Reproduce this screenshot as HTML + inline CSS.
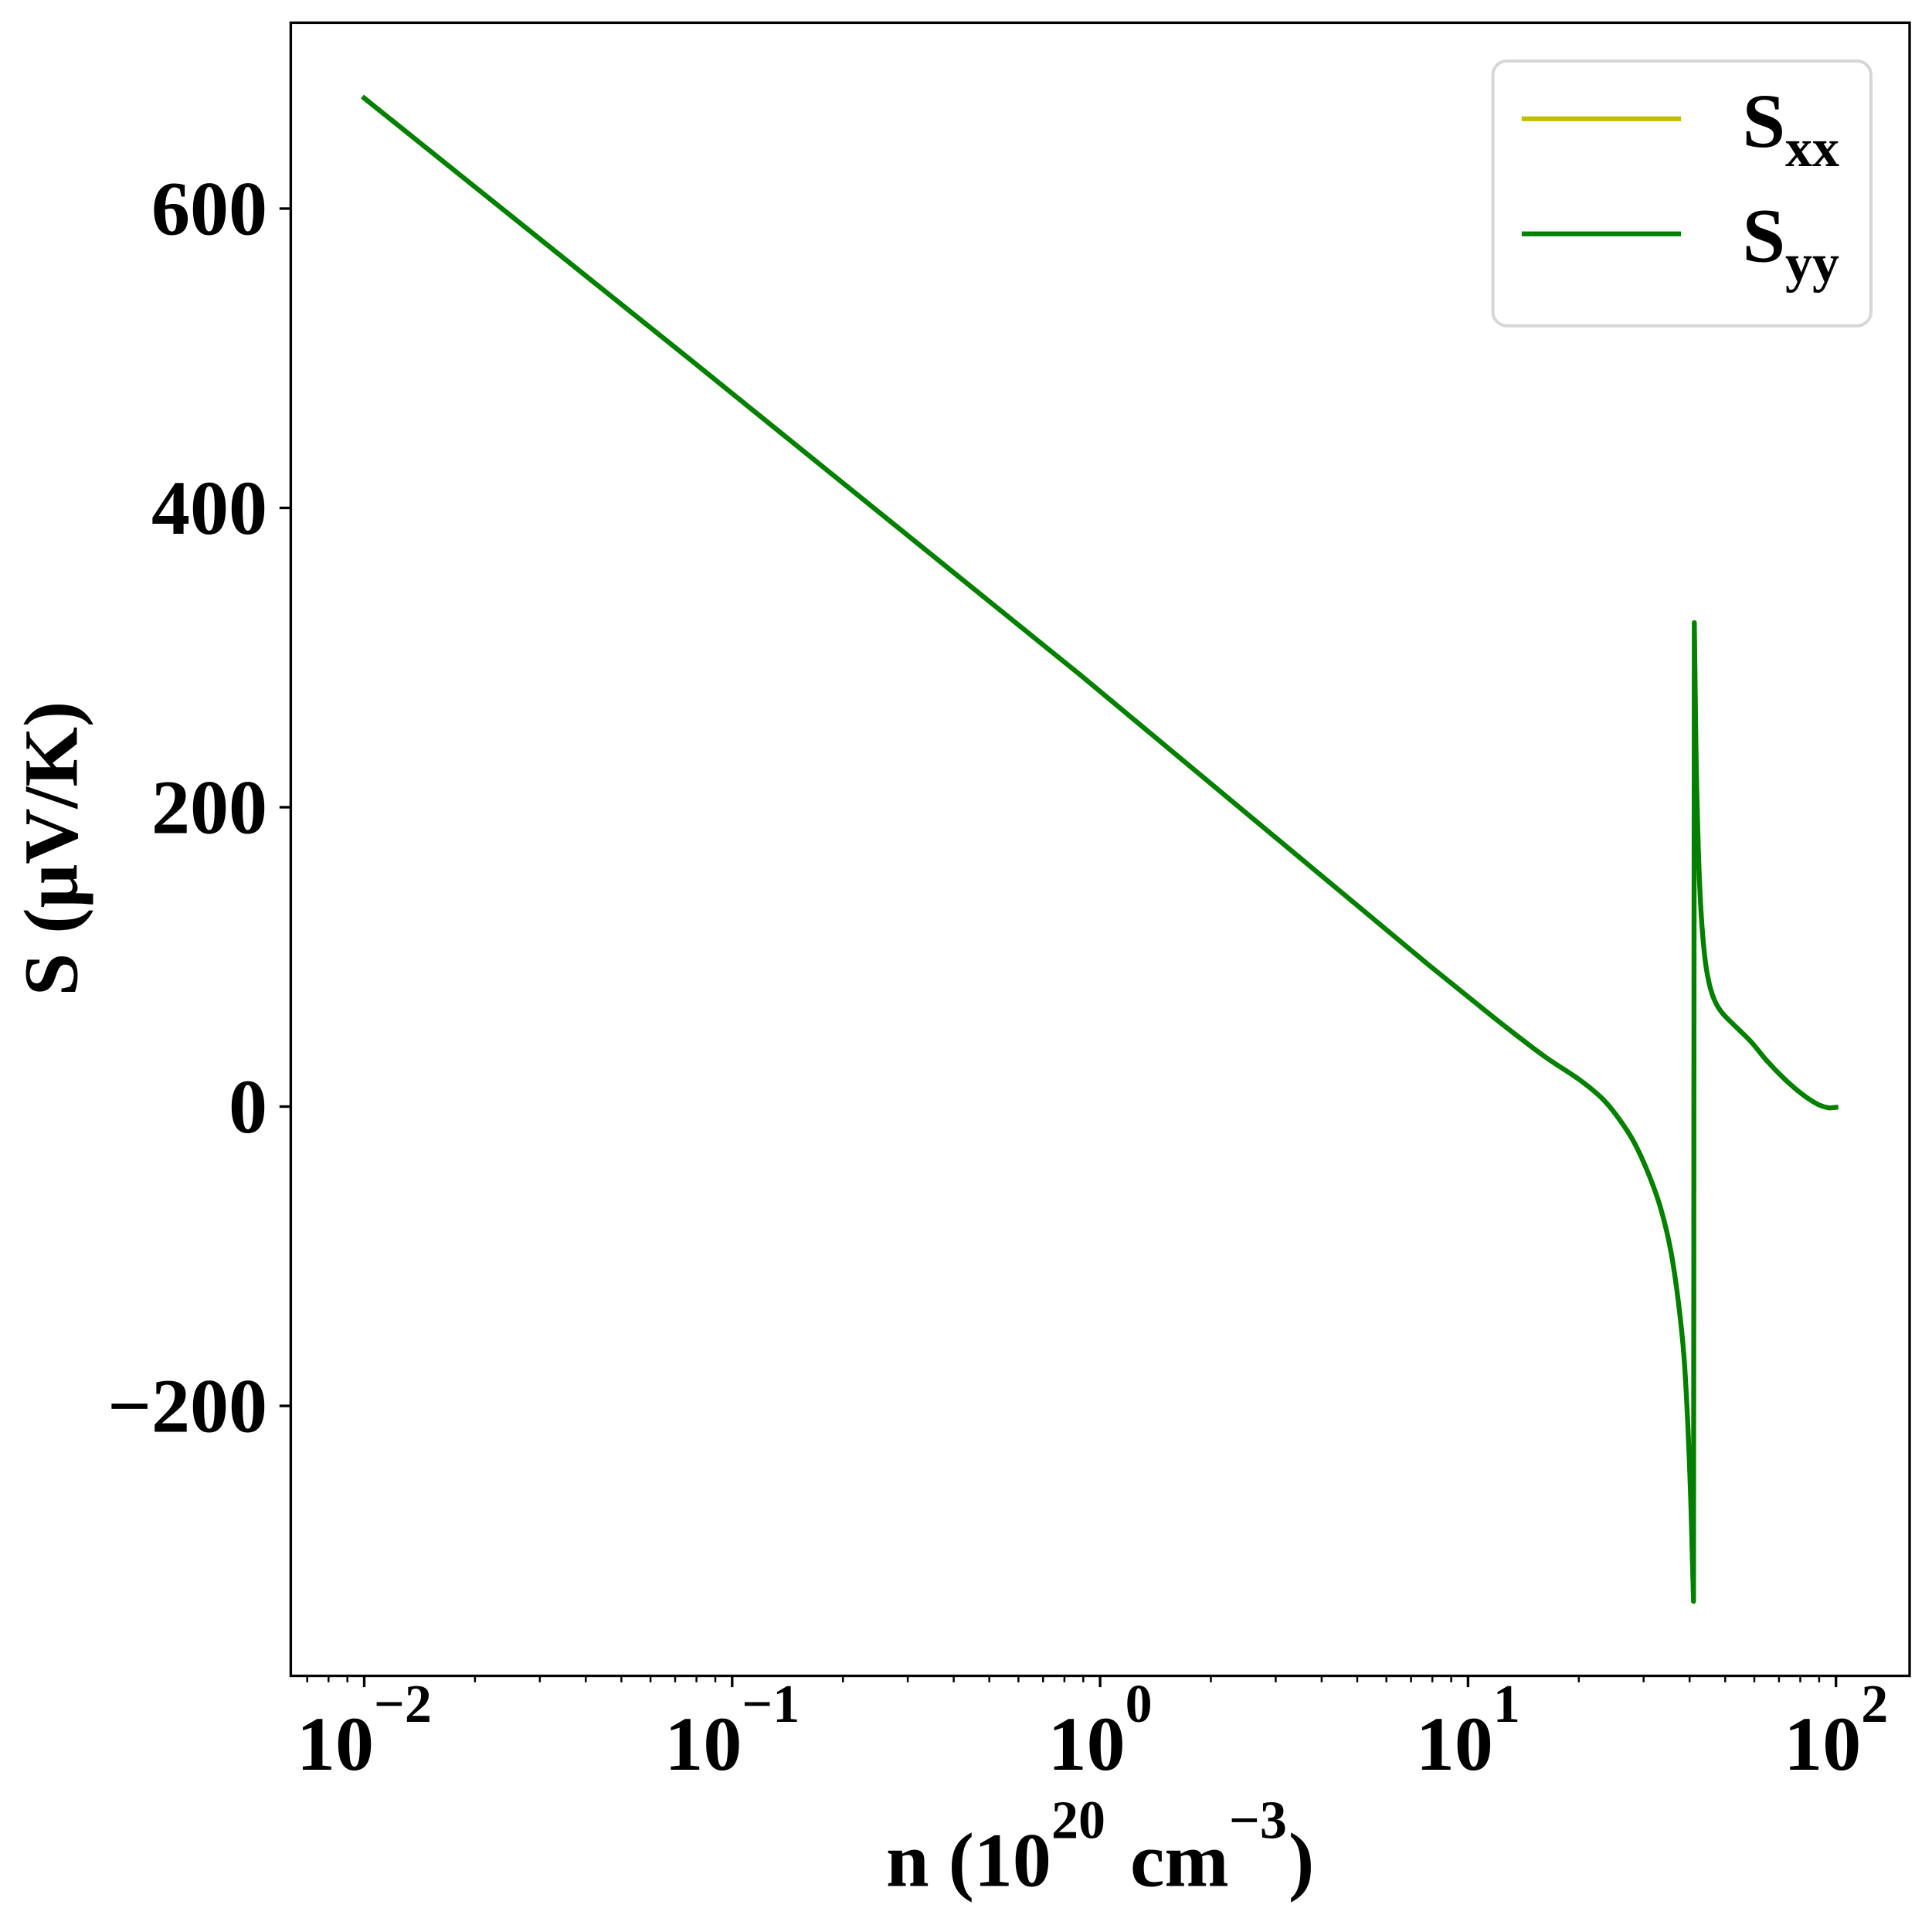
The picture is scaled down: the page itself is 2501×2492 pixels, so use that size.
<!DOCTYPE html>
<html>
<head>
<meta charset="utf-8">
<style>
  html, body { margin: 0; padding: 0; background: #ffffff; }
  body { width: 2501px; height: 2492px; overflow: hidden; }
  svg { display: block; }
  text { font-family: "Liberation Serif", "DejaVu Serif", serif; font-weight: bold; fill: #000; }
</style>
</head>
<body>
<svg width="2501" height="2492" viewBox="0 0 2501 2492" xmlns="http://www.w3.org/2000/svg">
  <rect x="0" y="0" width="2501" height="2492" fill="#ffffff"/>

  <defs>
    <path id="curve" d="M471.5,127 L900,470.7 L1400,875 L1850,1249.6
      C1866.7,1263.1 1883.3,1276.6 1900,1290
      C1916.7,1303.4 1933.3,1317 1950,1330
      C1966.7,1343 1984.2,1356.7 2000,1368
      C2015.8,1379.3 2032.5,1388.8 2045,1398
      C2057.5,1407.2 2066.3,1414.3 2075,1423
      C2083.7,1431.7 2090.2,1440.5 2097,1450
      C2103.8,1459.5 2109.7,1468 2116,1480
      C2122.3,1492 2129.3,1507.8 2135,1522
      C2140.7,1536.2 2145.3,1548.7 2150,1565
      C2154.7,1581.3 2159.2,1599.5 2163,1620
      C2166.8,1640.5 2170.2,1665.2 2173,1688
      C2175.8,1710.8 2178,1730.7 2180,1757
      C2182,1783.3 2183.6,1816.2 2185,1846
      C2186.4,1875.8 2187.5,1906.2 2188.5,1936
      C2189.5,1965.8 2190.4,2002.2 2191,2025
      C2191.6,2047.8 2192.1,2065 2192.3,2073
      L2193.3,806
      C2193.7,837 2194.05,867.7 2194.5,900
      C2194.95,932.3 2195.3,966.7 2196,1000
      C2196.7,1033.3 2197.5,1070 2198.5,1100
      C2199.5,1130 2200.6,1156.7 2202,1180
      C2203.4,1203.3 2205.2,1224.2 2207,1240
      C2208.8,1255.8 2210.8,1265.7 2213,1275
      C2215.2,1284.3 2217.2,1289.8 2220,1296
      C2222.8,1302.2 2225,1306 2230,1312
      C2235,1318 2243.7,1325.7 2250,1332
      C2256.3,1338.3 2261.8,1343.2 2268,1350
      C2274.2,1356.8 2280,1365.2 2287,1373
      C2294,1380.8 2302.3,1389.4 2310,1396.7
      C2317.7,1404 2325.8,1411 2333,1416.5
      C2340.2,1422 2347.4,1426.6 2353,1429.5
      C2358.6,1432.4 2362.8,1433.3 2366.7,1434
      C2370.6,1434.7 2373.5,1433.6 2376.5,1433.5"/>
  </defs>

  <!-- data curves -->
  <g fill="none" stroke-width="6.25" stroke-linejoin="round" stroke-linecap="square">
    <use href="#curve" stroke="#bfbf00"/>
    <use href="#curve" stroke="#008000"/>
  </g>

  <!-- axes frame -->
  <rect x="376.4" y="29.4" width="2095.6" height="2140.1" fill="none" stroke="#000" stroke-width="3.33" stroke-linejoin="miter"/>

  <!-- y major ticks -->
  <g stroke="#000" stroke-width="3.33">
    <line x1="361.8" y1="270" x2="376.4" y2="270"/>
    <line x1="361.8" y1="657.5" x2="376.4" y2="657.5"/>
    <line x1="361.8" y1="1045" x2="376.4" y2="1045"/>
    <line x1="361.8" y1="1432.5" x2="376.4" y2="1432.5"/>
    <line x1="361.8" y1="1820" x2="376.4" y2="1820"/>
  </g>

  <!-- y tick labels -->
  <g font-size="100" text-anchor="end">
    <text x="346" y="303.5">600</text>
    <text x="346" y="691">400</text>
    <text x="346" y="1078.5">200</text>
    <text x="346" y="1466">0</text>
    <text x="346" y="1853.5">−200</text>
  </g>

  <!-- x major ticks -->
  <g stroke="#000" stroke-width="3.33">
    <line x1="471.5" y1="2169.5" x2="471.5" y2="2184.1"/>
    <line x1="947.8" y1="2169.5" x2="947.8" y2="2184.1"/>
    <line x1="1424.1" y1="2169.5" x2="1424.1" y2="2184.1"/>
    <line x1="1900.4" y1="2169.5" x2="1900.4" y2="2184.1"/>
    <line x1="2376.7" y1="2169.5" x2="2376.7" y2="2184.1"/>
  </g>

  <!-- x minor ticks -->
  <g stroke="#000" stroke-width="2.5">
    <line x1="397.7" y1="2169.5" x2="397.7" y2="2177.8"/>
    <line x1="425.3" y1="2169.5" x2="425.3" y2="2177.8"/>
    <line x1="449.7" y1="2169.5" x2="449.7" y2="2177.8"/>

    <line x1="614.9" y1="2169.5" x2="614.9" y2="2177.8"/>
    <line x1="698.8" y1="2169.5" x2="698.8" y2="2177.8"/>
    <line x1="758.3" y1="2169.5" x2="758.3" y2="2177.8"/>
    <line x1="804.4" y1="2169.5" x2="804.4" y2="2177.8"/>
    <line x1="842.1" y1="2169.5" x2="842.1" y2="2177.8"/>
    <line x1="874.0" y1="2169.5" x2="874.0" y2="2177.8"/>
    <line x1="901.6" y1="2169.5" x2="901.6" y2="2177.8"/>
    <line x1="926.0" y1="2169.5" x2="926.0" y2="2177.8"/>

    <line x1="1091.2" y1="2169.5" x2="1091.2" y2="2177.8"/>
    <line x1="1175.1" y1="2169.5" x2="1175.1" y2="2177.8"/>
    <line x1="1234.6" y1="2169.5" x2="1234.6" y2="2177.8"/>
    <line x1="1280.7" y1="2169.5" x2="1280.7" y2="2177.8"/>
    <line x1="1318.4" y1="2169.5" x2="1318.4" y2="2177.8"/>
    <line x1="1350.3" y1="2169.5" x2="1350.3" y2="2177.8"/>
    <line x1="1377.9" y1="2169.5" x2="1377.9" y2="2177.8"/>
    <line x1="1402.3" y1="2169.5" x2="1402.3" y2="2177.8"/>

    <line x1="1567.5" y1="2169.5" x2="1567.5" y2="2177.8"/>
    <line x1="1651.4" y1="2169.5" x2="1651.4" y2="2177.8"/>
    <line x1="1710.9" y1="2169.5" x2="1710.9" y2="2177.8"/>
    <line x1="1757.0" y1="2169.5" x2="1757.0" y2="2177.8"/>
    <line x1="1794.7" y1="2169.5" x2="1794.7" y2="2177.8"/>
    <line x1="1826.6" y1="2169.5" x2="1826.6" y2="2177.8"/>
    <line x1="1854.2" y1="2169.5" x2="1854.2" y2="2177.8"/>
    <line x1="1878.6" y1="2169.5" x2="1878.6" y2="2177.8"/>

    <line x1="2043.8" y1="2169.5" x2="2043.8" y2="2177.8"/>
    <line x1="2127.7" y1="2169.5" x2="2127.7" y2="2177.8"/>
    <line x1="2187.2" y1="2169.5" x2="2187.2" y2="2177.8"/>
    <line x1="2233.3" y1="2169.5" x2="2233.3" y2="2177.8"/>
    <line x1="2271.0" y1="2169.5" x2="2271.0" y2="2177.8"/>
    <line x1="2302.9" y1="2169.5" x2="2302.9" y2="2177.8"/>
    <line x1="2330.5" y1="2169.5" x2="2330.5" y2="2177.8"/>
    <line x1="2354.9" y1="2169.5" x2="2354.9" y2="2177.8"/>
  </g>

  <!-- x tick labels -->
  <g font-size="100" text-anchor="middle">
    <text x="471.5" y="2291">10<tspan font-size="70" dy="-62">−2</tspan></text>
    <text x="947.8" y="2291">10<tspan font-size="70" dy="-62">−1</tspan></text>
    <text x="1424.1" y="2291">10<tspan font-size="70" dy="-62">0</tspan></text>
    <text x="1900.4" y="2291">10<tspan font-size="70" dy="-62">1</tspan></text>
    <text x="2376.7" y="2291">10<tspan font-size="70" dy="-62">2</tspan></text>
  </g>

  <!-- x axis label -->
  <text x="1147" y="2441.5" font-size="100">n (10</text>
  <text x="1361" y="2379.5" font-size="70">20</text>
  <text x="1463" y="2441.5" font-size="100">cm</text>
  <text x="1591" y="2379.5" font-size="70">−3</text>
  <text x="1668" y="2441.5" font-size="100">)</text>

  <!-- y axis label -->
  <text transform="translate(99.5,1098.5) rotate(-90)" text-anchor="middle" font-size="100">S (μV/K)</text>

  <!-- legend -->
  <rect x="1932.6" y="79" width="489.4" height="342.7" rx="18" ry="18" fill="#ffffff" fill-opacity="0.8" stroke="#d6d6d6" stroke-width="4"/>
  <line x1="1973" y1="153.7" x2="2173" y2="153.7" stroke="#bfbf00" stroke-width="6.25" stroke-linecap="square"/>
  <line x1="1973" y1="302.7" x2="2173" y2="302.7" stroke="#008000" stroke-width="6.25" stroke-linecap="square"/>
  <text x="2255.5" y="190" font-size="100">S</text>
  <text x="2311" y="215" font-size="70">xx</text>
  <text x="2255.5" y="338.5" font-size="100">S</text>
  <text x="2311" y="364" font-size="70">yy</text>
</svg>
</body>
</html>
